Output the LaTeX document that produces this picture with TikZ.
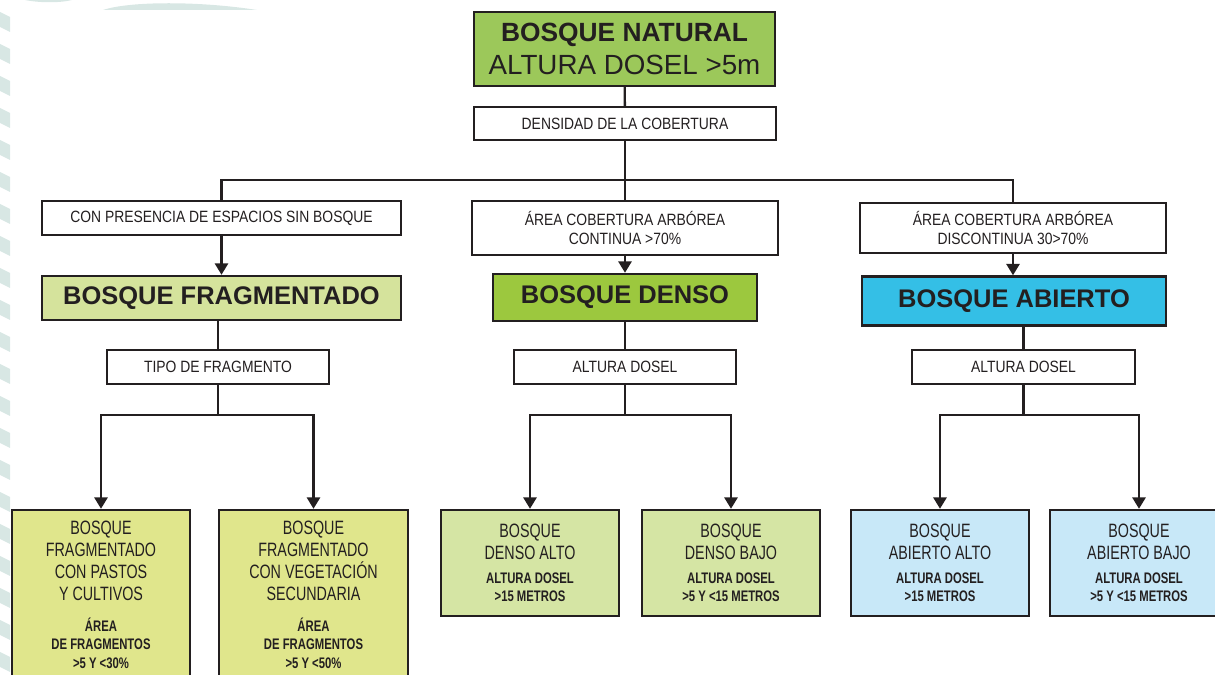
\documentclass[tikz,border=0pt]{standalone}
\usepackage{fontspec}
\setmainfont{Liberation Sans}
\newfontfamily\cond[FakeStretch=0.85]{Liberation Sans}
\newfontfamily\condb[FakeStretch=0.74]{Liberation Sans}
\usetikzlibrary{arrows.meta}
\definecolor{natgreen}{RGB}{156,200,90}
\definecolor{fraggreen}{RGB}{213,227,156}
\definecolor{densgreen}{RGB}{156,200,62}
\definecolor{abcyan}{RGB}{52,191,230}
\definecolor{leafyellow}{RGB}{224,230,140}
\definecolor{leafgreen}{RGB}{213,229,164}
\definecolor{leafblue}{RGB}{200,232,248}
\definecolor{boxline}{RGB}{35,31,32}
\definecolor{stripe}{RGB}{216,231,228}
\newcommand{\sm}{\bfseries\fontsize{8.7}{10}\selectfont}
\begin{document}
\begin{tikzpicture}[x=0.02cm, y=-0.02cm, thick,
    box/.style={rectangle, draw=boxline, line width=1.4pt, text=boxline, inner sep=2pt},
    lbl/.style={box, fill=white, align=center, font=\cond\fontsize{9.3}{11}\selectfont},
    head/.style={box, font=\fontsize{14.5}{17}\selectfont\bfseries},
    leaf/.style={box, align=center, font=\condb\fontsize{11}{12.5}\selectfont},
    ln/.style={line width=1.3pt, draw=boxline},
    arr/.style={ln, -{Triangle[width=7.5pt,length=6.5pt]}}]
  \useasboundingbox (0,0) rectangle (1215,675);
  \foreach \s in {12,44,...,675}
    \fill[stripe] (0,\s) -- (10,\s+5) -- (10,\s+20) -- (0,\s+15) -- cycle;
  \fill[stripe] (103,10) .. controls (130,1) and (200,1) .. (257,10) -- cycle;
  \fill[stripe] (25,0) .. controls (40,3) and (60,3) .. (72,0) -- cycle;

  \node[box, fill=natgreen, minimum width=6.02cm, minimum height=1.48cm, align=center, font=\fontsize{15}{19}\selectfont] (nat) at (624.5,49) {\textbf{BOSQUE NATURAL}\\{\fontsize{15.8}{19}\selectfont ALTURA DOSEL >5m}};
  \node[lbl, minimum width=6.04cm, minimum height=0.66cm] (dens) at (625,123.5) {DENSIDAD DE LA COBERTURA};
  \node[lbl, minimum width=7.18cm, minimum height=0.68cm] (pres) at (221.5,218) {CON PRESENCIA DE ESPACIOS SIN BOSQUE};
  \node[lbl, minimum width=6.12cm, minimum height=1.08cm] (cont) at (625,228) {ÁREA COBERTURA ARBÓREA\\CONTINUA >70\%};
  \node[lbl, minimum width=6.12cm, minimum height=1.0cm] (disc) at (1013,228) {ÁREA COBERTURA ARBÓREA\\DISCONTINUA 30>70\%};

  \node[head, fill=fraggreen, minimum width=7.18cm, minimum height=0.88cm] (frag) at (221.5,298) {BOSQUE FRAGMENTADO};
  \node[head, fill=densgreen, minimum width=5.28cm, minimum height=0.94cm] (denso) at (625,297.5) {BOSQUE DENSO};
  \node[head, fill=abcyan, minimum width=6.08cm, minimum height=0.98cm] (abto) at (1014,301) {BOSQUE ABIERTO};

  \node[lbl, minimum width=4.44cm, minimum height=0.68cm] (tipo) at (218,367) {TIPO DE FRAGMENTO};
  \node[lbl, minimum width=4.44cm, minimum height=0.68cm] (altd) at (625,367) {ALTURA DOSEL};
  \node[lbl, minimum width=4.46cm, minimum height=0.68cm] (alta) at (1023.5,367) {ALTURA DOSEL};

  \node[leaf, fill=leafyellow, minimum width=3.56cm, minimum height=3.4cm] (fpast) at (101,595) {BOSQUE\\FRAGMENTADO\\CON PASTOS\\Y CULTIVOS\\[5pt]{\sm ÁREA}\\[-2pt]{\sm DE FRAGMENTOS}\\[-2pt]{\sm >5 Y <30\%}};
  \node[leaf, fill=leafyellow, minimum width=3.78cm, minimum height=3.4cm] (fveg) at (313.5,595) {BOSQUE\\FRAGMENTADO\\CON VEGETACIÓN\\SECUNDARIA\\[5pt]{\sm ÁREA}\\[-2pt]{\sm DE FRAGMENTOS}\\[-2pt]{\sm >5 Y <50\%}};
  \node[leaf, fill=leafgreen, minimum width=3.56cm, minimum height=2.12cm] (dalto) at (530,563) {BOSQUE\\DENSO ALTO\\[1pt]{\sm ALTURA DOSEL}\\[-2pt]{\sm >15 METROS}};
  \node[leaf, fill=leafgreen, minimum width=3.56cm, minimum height=2.12cm] (dbajo) at (731,563) {BOSQUE\\DENSO BAJO\\[1pt]{\sm ALTURA DOSEL}\\[-2pt]{\sm >5 Y <15 METROS}};
  \node[leaf, fill=leafblue, minimum width=3.56cm, minimum height=2.12cm] (aalto) at (940,563) {BOSQUE\\ABIERTO ALTO\\[1pt]{\sm ALTURA DOSEL}\\[-2pt]{\sm >15 METROS}};
  \node[leaf, fill=leafblue, minimum width=3.56cm, minimum height=2.12cm] (abajo) at (1139,563) {BOSQUE\\ABIERTO BAJO\\[1pt]{\sm ALTURA DOSEL}\\[-2pt]{\sm >5 Y <15 METROS}};

  \coordinate (bar) at (625,180);
  \draw[ln] (nat) -- (dens);
  \draw[ln] (dens) -- (bar);
  \draw[ln] (pres.north) |- (bar) -| (disc.north);
  \draw[ln] (bar) -- (cont);
  \draw[arr] (pres) -- (frag);
  \draw[arr] (cont) -- (denso);
  \draw[arr] (disc.south) -- (disc.south |- abto.north);
  \draw[ln] (tipo.north |- frag.south) -- (tipo);
  \draw[ln] (denso) -- (altd);
  \draw[ln] (alta.north |- abto.south) -- (alta);

  \draw[ln] (tipo.south) -- ++(0,30) coordinate (ja);
  \draw[arr] (ja) -| (fpast);
  \draw[arr] (ja) -| (fveg);
  \draw[ln] (altd.south) -- ++(0,30) coordinate (jb);
  \draw[arr] (jb) -| (dalto);
  \draw[arr] (jb) -| (dbajo);
  \draw[ln] (alta.south) -- ++(0,30) coordinate (jc);
  \draw[arr] (jc) -| (aalto);
  \draw[arr] (jc) -| (abajo);
\end{tikzpicture}
\end{document}
